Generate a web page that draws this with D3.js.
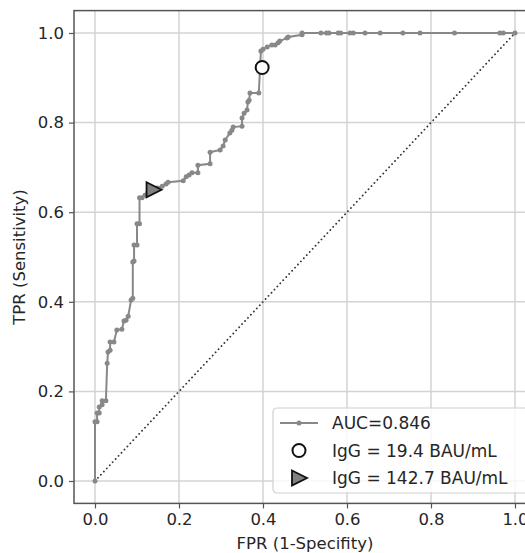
<!DOCTYPE html>
<html>
<head>
<meta charset="utf-8">
<script src="https://cdn.jsdelivr.net/npm/d3@7"></script>
<style>
  body { margin: 0; background: #fff; }
  svg { display: block; overflow: hidden; }
</style>
</head>
<body>
<svg id="chart" width="525" height="553"></svg>
<script>
// ROC curve vertices
const fpr = [0, 0, 0.005, 0.005, 0.010, 0.010, 0.017, 0.017, 0.026, 0.029, 0.031, 0.036, 0.036, 0.045,
  0.052, 0.064, 0.069, 0.074, 0.079, 0.086, 0.090, 0.090, 0.093, 0.093, 0.100, 0.100, 0.106, 0.106,
  0.112, 0.119, 0.126, 0.136, 0.148, 0.160, 0.169, 0.174, 0.210, 0.217, 0.224, 0.231, 0.245, 0.245,
  0.274, 0.274, 0.298, 0.305, 0.310, 0.321, 0.326, 0.329, 0.350, 0.350, 0.355, 0.362, 0.364, 0.367,
  0.369, 0.390, 0.395, 0.400, 0.410, 0.421, 0.429, 0.436, 0.440, 0.457, 0.460, 0.493, 0.493,
  0.538, 0.551, 0.557, 0.579, 0.585, 0.607, 0.615, 0.643, 0.679, 0.733, 0.774, 0.856, 0.964, 0.972, 1.0];
const tpr = [0, 0.132, 0.132, 0.152, 0.152, 0.165, 0.170, 0.179, 0.179, 0.263, 0.288, 0.292, 0.310, 0.310,
  0.337, 0.339, 0.357, 0.359, 0.368, 0.404, 0.408, 0.489, 0.491, 0.527, 0.527, 0.574, 0.574, 0.632,
  0.632, 0.638, 0.645, 0.650, 0.654, 0.658, 0.663, 0.667, 0.670, 0.679, 0.683, 0.688, 0.688, 0.705,
  0.708, 0.734, 0.739, 0.748, 0.761, 0.777, 0.783, 0.790, 0.792, 0.810, 0.821, 0.828, 0.846, 0.850,
  0.866, 0.866, 0.960, 0.964, 0.969, 0.973, 0.973, 0.978, 0.982, 0.989, 0.991, 0.996, 1.0,
  1, 1, 1, 1, 1, 1, 1, 1, 1, 1, 1, 1, 1, 1, 1];

// cut-off points
const cutCircle = { fpr: 0.398, tpr: 0.923 };
const cutTriangle = { fpr: 0.137, tpr: 0.650 };

const tickValues = [0, 0.2, 0.4, 0.6, 0.8, 1.0];
const legendLabels = ['AUC=0.846', 'IgG = 19.4 BAU/mL', 'IgG = 142.7 BAU/mL'];

const curveColor = '#888888';
const font = 'DejaVu Sans, sans-serif';

const svg = d3.select('#chart');
const plot = { left: 74, right: 536, top: 10.6, bottom: 503.4 };

const x = d3.scaleLinear().domain([-0.05, 1.05]).range([plot.left, plot.right]);
const y = d3.scaleLinear().domain([-0.05, 1.05]).range([plot.bottom, plot.top]);

// grid
const grid = svg.append('g');
grid.selectAll('line.gx')
    .data(tickValues)
    .enter()
    .append('line')
    .attr('x1', d => x(d)).attr('x2', d => x(d))
    .attr('y1', plot.top).attr('y2', plot.bottom)
    .attr('stroke', '#d3d3d3').attr('stroke-width', 1.5);
grid.selectAll('line.gy')
    .data(tickValues)
    .enter()
    .append('line')
    .attr('y1', d => y(d)).attr('y2', d => y(d))
    .attr('x1', plot.left).attr('x2', plot.right)
    .attr('stroke', '#d3d3d3').attr('stroke-width', 1.5);

// axes
const xAxis = d3.axisBottom(x).tickValues(tickValues).tickFormat(d3.format('.1f')).tickSizeOuter(0).tickSize(5).tickPadding(5);
const yAxis = d3.axisLeft(y).tickValues(tickValues).tickFormat(d3.format('.1f')).tickSizeOuter(0).tickSize(5).tickPadding(5);

const gx = svg.append('g').attr('transform', `translate(0,${plot.bottom})`).call(xAxis);
const gy = svg.append('g').attr('transform', `translate(${plot.left},0)`).call(yAxis);
[gx, gy].forEach(g => {
    g.select('.domain').remove();
    g.selectAll('.tick line').attr('stroke', '#555').attr('stroke-width', 1.2);
    g.selectAll('.tick text').attr('fill', '#262626').style('font-size', '16.5px').style('font-family', font);
});

// diagonal reference
svg.append('line')
    .attr('x1', x(0)).attr('y1', y(0))
    .attr('x2', x(1)).attr('y2', y(1))
    .attr('stroke', '#333').attr('stroke-width', 1.8)
    .attr('stroke-dasharray', '0.1,4.2').attr('stroke-linecap', 'round');

// roc curve
const pts = fpr.map((f, i) => [f, tpr[i]]);
svg.append('path')
    .datum(pts)
    .attr('d', d3.line().x(d => x(d[0])).y(d => y(d[1])))
    .attr('fill', 'none').attr('stroke', curveColor).attr('stroke-width', 2);
svg.selectAll('circle.pt')
    .data(pts)
    .enter()
    .append('circle')
    .attr('cx', d => x(d[0])).attr('cy', d => y(d[1]))
    .attr('r', 2.5).attr('fill', curveColor);

// cut-off markers
svg.append('circle')
    .attr('cx', x(cutCircle.fpr)).attr('cy', y(cutCircle.tpr))
    .attr('r', 6.5).attr('fill', '#fff').attr('stroke', '#111').attr('stroke-width', 2);

const triPath = 'M-6,-7.5L9,0L-6,7.5Z';
svg.append('path')
    .attr('d', triPath)
    .attr('transform', `translate(${x(cutTriangle.fpr)},${y(cutTriangle.tpr)})`)
    .attr('fill', '#808080').attr('stroke', '#111').attr('stroke-width', 1.8).attr('stroke-linejoin', 'miter');

// frame
svg.append('rect')
    .attr('x', plot.left).attr('y', plot.top)
    .attr('width', plot.right - plot.left).attr('height', plot.bottom - plot.top)
    .attr('fill', 'none').attr('stroke', '#555').attr('stroke-width', 1.5);

// legend
const lg = svg.append('g').attr('transform', 'translate(273,408)');
lg.append('rect')
    .attr('x', 0).attr('y', 0).attr('width', 262).attr('height', 85).attr('rx', 4)
    .attr('fill', 'rgba(255,255,255,0.8)').attr('stroke', '#d0d0d0').attr('stroke-width', 1.2);
const rowY = [15, 42.5, 70];
lg.append('line').attr('x1', 7).attr('x2', 45).attr('y1', rowY[0]).attr('y2', rowY[0])
    .attr('stroke', curveColor).attr('stroke-width', 2);
lg.append('circle').attr('cx', 26).attr('cy', rowY[0]).attr('r', 2.5).attr('fill', curveColor);
lg.append('circle').attr('cx', 26).attr('cy', rowY[1]).attr('r', 6.5)
    .attr('fill', '#fff').attr('stroke', '#111').attr('stroke-width', 2);
lg.append('path').attr('d', triPath).attr('transform', `translate(25,${rowY[2]})`)
    .attr('fill', '#808080').attr('stroke', '#111').attr('stroke-width', 1.8);
lg.selectAll('text')
    .data(legendLabels)
    .enter()
    .append('text')
    .text(d => d)
    .attr('x', 59)
    .attr('y', (d, i) => rowY[i])
    .attr('dy', '0.36em')
    .attr('fill', '#262626')
    .style('font-size', '17px')
    .style('font-family', font);

// axis labels
svg.append('text')
    .text('FPR (1-Specifity)')
    .attr('x', x(0.5)).attr('y', 549)
    .attr('text-anchor', 'middle').attr('fill', '#262626')
    .style('font-size', '16.5px').style('font-family', font);
svg.append('text')
    .text('TPR (Sensitivity)')
    .attr('transform', `translate(25,${(plot.top + plot.bottom) / 2}) rotate(-90)`)
    .attr('text-anchor', 'middle').attr('fill', '#262626')
    .style('font-size', '16.5px').style('font-family', font);
</script>
</body>
</html>
